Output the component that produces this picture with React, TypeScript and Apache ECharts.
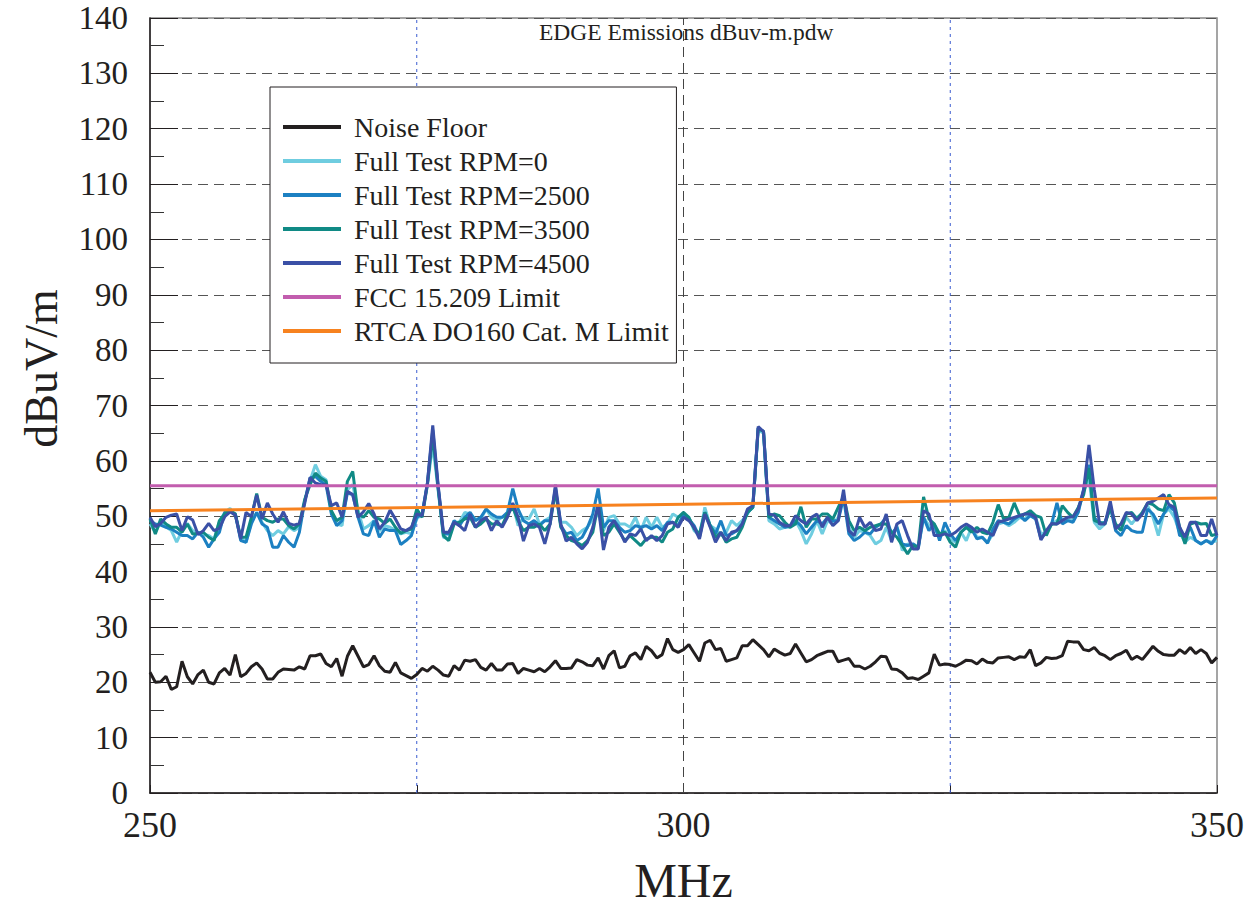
import React, { useEffect, useRef } from "react";
import * as echarts from "echarts";

// Sweep: 250 MHz to 350 MHz in 0.5 MHz steps (201 points)
const FREQ_START = 250;
const FREQ_STEP = 0.5;

const noiseFloor = [
  21.8, 20, 20.1, 21.1, 18.7, 19.2, 23.8, 21, 19.7, 21.4,
  22.2, 20, 19.7, 21.7, 22.5, 21.3, 25, 21, 21.6, 22.8,
  23.5, 22.4, 20.6, 20.6, 21.8, 22.4, 22.3, 22.2, 22.8, 22.4,
  24.8, 24.8, 25.1, 23.4, 22.8, 24.3, 21.1, 24.7, 26.6, 24.7,
  22.8, 23.2, 24.8, 23, 22, 21.8, 23.6, 21.7, 21.2, 20.7,
  21.4, 22.5, 22, 22.9, 22.2, 21.3, 21.1, 23, 22.2, 24,
  23.8, 24.1, 22.7, 22.2, 23.4, 22.2, 22.2, 23.3, 23.4, 21.6,
  22.5, 22.2, 21.9, 22.5, 21.9, 22.8, 23.9, 22.5, 22.5, 22.6,
  24.1, 23.7, 23.1, 23, 24.4, 22.4, 24.8, 25.7, 22.6, 22.9,
  24.8, 25.3, 24.1, 26.5, 25.7, 24.4, 25, 27.9, 25.9, 25.4,
  25.9,
  26.8, 25.3, 23.8, 27.1, 27.6, 25.9, 26.1, 23.8, 24.1, 24.4,
  26.6, 26.6, 27.7, 26.8, 25.9, 24.6, 26, 25.4, 24.9, 25.2,
  26.9, 25.3, 23.7, 24.1, 24.8, 25.2, 25.6, 25.6, 23.7, 24,
  24.3, 22.9, 22.9, 22.4, 22.9, 23.7, 24.7, 24.6, 22.4, 22.3,
  21.7, 20.7, 20.8, 20.5, 21.1, 21.7, 25.1, 23.1, 23.3, 23.2,
  22.9, 23.4, 24, 23.9, 23.3, 24.2, 23.6, 23.5, 24.4, 24.5,
  24.6, 24.1, 24.6, 24.5, 25.9, 23, 23.5, 24.5, 24.3, 24.4,
  24.8, 27.4, 27.3, 27.3, 25.9, 25.7, 26.3, 25.2, 24.8, 24.1,
  24.8, 25.2, 25.8, 24.1, 24.7, 24.1, 25.3, 26.5, 25.6, 25,
  24.9, 24.9, 25.9, 25.2, 26.3, 25.2, 25.9, 25.2, 23.5, 24.5,
];

const rpm0 = [
  48.6, 47.1, 48.9, 48.1, 47.4, 45.3, 47.4, 48.7, 47.4, 47.1,
  46.7, 46.5, 45.9, 48.9, 50.7, 51.4, 50.1, 46.1, 45.3, 48.9,
  50.7, 48.9, 47.4, 46.5, 47.4, 46.8, 48.1, 47.4, 48, 52.7,
  56.4, 59.3, 57.2, 56.6, 50.7, 48.6, 48.3, 54.8, 55.7, 51,
  47.7, 48.3, 49.2, 47.4, 48.3, 48, 47.5, 46.8, 47.1, 46.8,
  49.5,
  50.4, 55.7, 62.9, 54.8, 46.2, 45.9, 48.9, 48.9, 50.7, 50.4,
  49.5, 49.5, 51.3, 49.8, 49.2, 49.8, 50.4, 52.1, 48.3, 49.8,
  49.5, 51.3, 48.6, 49.2, 49.8, 54.2, 48.9, 48.9, 48, 46.5,
  47.4, 48, 49.5, 50.4, 47.4, 49.8, 50.1, 48.6, 48.6, 48,
  49.8, 47.4, 49.8, 48, 49.8, 48, 48.6, 50.4, 49.8, 50.4,
  49.8, 47.4, 46.5, 51.6, 48.3, 47.7, 46.5, 47.1, 49.2, 48.3,
  49.2, 50.4, 52.1, 65.6, 65, 49.2, 48.6, 47.7, 48, 48,
  49.2, 47.4, 45, 46.8, 49.2, 46.8, 49.2, 48.6, 49.8, 53.9,
  48, 46.2, 47.4, 47.1, 46.5, 45, 45.6, 48, 45.6, 48.3,
  43.8, 45, 44.4, 44.1, 49.8, 48.3, 48, 46.2, 47.4, 45.9,
  45.3, 47.1, 45.6, 48, 46.2, 46.2, 45.3, 46.8, 48.6, 48.9,
  48.3, 48.9, 49.8, 49.5, 50.7, 49.8, 46.8, 47.1, 48.6, 49.2,
  49.5, 49.5, 49.2, 51, 54.5, 56.9, 48.9, 47.7, 48.6, 52.1,
  48, 47.7, 49.8, 48.6, 49.8, 50.4, 51.9, 49.8, 46.5, 50.4,
  51.3, 49.8, 47.1, 45.3, 46.2, 45.6, 45, 45.6, 45.3, 45.6,
];

const rpm2500 = [
  49.2, 48.6, 48.4, 48, 47.7, 47.1, 46.5, 46.5, 45.9, 47.1,
  46.2, 44.4, 45.9, 47.1, 50.7, 51, 50.4, 45.6, 45.3, 48.6,
  50.7, 48.6, 48, 44.4, 44.4, 46.5, 45.3, 44.4, 47.1, 52.7,
  56.9, 57.2, 56.3, 55.7, 50.4, 48.3, 49.2, 54.2, 53.9, 49.8,
  46.8, 46.5, 49.2, 46.2, 47.7, 47.4, 47.4, 44.9, 45.6, 46.5,
  49.8,
  50.4, 56, 65.6, 55.4, 46.8, 46.8, 49.2, 48.3, 49.8, 50.7,
  49.2, 49.8, 51.3, 50.4, 49.8, 49.8, 50.7, 55, 51.3, 49.2,
  48.6, 49.2, 48.3, 49.2, 49.2, 55.1, 48.3, 46.8, 47.1, 45.6,
  46.2, 48, 50.4, 55, 48, 49.2, 49.2, 48, 47.1, 47.4,
  48.3, 48, 48.3, 47.7, 48.3, 47.4, 48.9, 48.9, 48.3, 50.4,
  49.5, 48.3, 46.2, 50.7, 48.3, 46.8, 49.2, 46.5, 46.8, 47.4,
  48.6, 50.7, 51.6, 65.9, 65.3, 49.8, 49.2, 48.6, 48, 48.3,
  49.2, 48.3, 46.8, 48, 49.2, 48.6, 49.8, 49.2, 49.2, 53.3,
  46.8, 45.6, 46.2, 47.1, 46.8, 48, 48.6, 49.8, 46.8, 48,
  45, 44.7, 45, 44.4, 49.8, 47.4, 48.6, 45.6, 48.9, 46.8,
  45.6, 47.1, 48, 47.7, 45.9, 46.2, 45.1, 47.7, 49.2, 48.9,
  48.6, 49.5, 50.1, 49.2, 50.1, 49.5, 45.9, 47.1, 48.6, 52.4,
  48.6, 49.2, 48.9, 50.7, 54.8, 59.3, 49.8, 48.6, 48.9, 51.6,
  47.4, 46.5, 48.3, 47.4, 47.1, 47.1, 51.3, 50.4, 48.6, 50.4,
  51.9, 51, 46.5, 46.5, 48, 45.6, 45, 45.6, 45, 46.5,
];

const rpm3500 = [
  49.5, 46.8, 49.5, 48.6, 48, 48, 47.1, 48.6, 46.8, 46.9,
  47.1, 46.2, 45.6, 49.2, 50.4, 51, 50.4, 46.2, 46.2, 49.8,
  54.1, 49.8, 49.2, 48.9, 49.5, 49.5, 48.3, 47.7, 48.6, 53,
  55.7, 57.8, 56.9, 56.3, 51, 49.2, 49.8, 56.3, 58.1, 50.4,
  49.8, 51, 49.8, 49.5, 48.7, 49.5, 48, 46.9, 47.4, 47.7,
  51.3,
  49.8, 55.7, 64.7, 55.1, 46.5, 45.6, 48.6, 48.9, 49.5, 49.8,
  48, 48.6, 49.5, 48.6, 48.6, 48.3, 50.4, 51.6, 49.2, 47.4,
  48, 48, 48.6, 47.4, 48.6, 54.8, 48, 46.5, 45.6, 45.3,
  44.7, 45.6, 47.1, 52.1, 46.5, 47.1, 48.6, 47.1, 45.6, 46.5,
  45.6, 44.7, 45.9, 46.2, 46.2, 45.3, 47.1, 47.7, 49.8, 50.7,
  49.8, 47.7, 46.8, 50.7, 48.3, 46.2, 47.1, 45.3, 45.9, 46.2,
  48, 50.7, 51.6, 65.9, 65.3, 49.8, 50.4, 50.1, 48.9, 48,
  48.6, 51.7, 48, 49.5, 49.5, 50.4, 50.4, 49.5, 51.6, 53.6,
  49.2, 47.4, 48, 47.4, 48, 48.3, 48.6, 48.6, 47.1, 46.2,
  44.7, 43.2, 44.7, 44.4, 53.5, 49.5, 48.6, 46.8, 47.1, 45.3,
  44.4, 47.1, 48, 47.1, 48, 47.1, 46.8, 48.9, 52.1, 49.5,
  49.8, 52.4, 50.1, 50.4, 51, 50.1, 49.8, 46.5, 48.6, 48.6,
  51.9, 50.7, 49.8, 51.6, 53.9, 58.7, 49.2, 48.9, 48.6, 51.6,
  48.6, 47.4, 50.4, 50.7, 49.5, 50.7, 52.4, 52.1, 51.3, 51,
  53.9, 52.4, 48, 45, 48.6, 48.9, 48.6, 48.7, 46.5, 46.8,
];

const rpm4500 = [
  49.8, 48.1, 48.7, 49.8, 50.2, 50.4, 47.4, 49.9, 49.3, 46.7,
  47.4, 48.7, 47.4, 47.8, 49.9, 50.8, 50.2, 45.9, 50.7, 49.9,
  53.8, 49.5, 52.4, 50.4, 48.9, 50.8, 48.7, 48.4, 48.7, 52.3,
  57, 56, 55.7, 55.7, 51.9, 52.4, 49.8, 54.5, 53.9, 49.8,
  50.8, 52.3, 50.4, 47.7, 48.9, 51.1, 49.5, 47.7, 47.4, 48,
  50.4,
  50.1, 56, 66.4, 55.7, 47.1, 47.1, 48.9, 48.3, 47.4, 50.4,
  48, 49.2, 49.8, 47.4, 49.2, 48, 49.8, 52.4, 49.8, 45.5,
  48.3, 48.6, 48, 45, 48.6, 55.7, 48.6, 45.5, 46.2, 45,
  44.1, 45.3, 48, 52.1, 43.9, 48, 49.2, 47.4, 45.3, 46.8,
  46.5, 47.7, 45.6, 46.5, 45.6, 46.5, 48.6, 48.9, 48, 49.8,
  49.2, 48, 45.9, 50.4, 48, 45.3, 47.1, 45.6, 47.1, 47.4,
  48.6, 51.3, 51.9, 66.2, 65.3, 50.4, 50.2, 48.9, 48.3, 48.3,
  50.1, 49.2, 48.6, 49.8, 50.4, 48, 49.8, 48.3, 49.2, 54.8,
  47.4, 46.5, 49.8, 48, 48.9, 47.4, 47.7, 50.4, 45.3, 48.6,
  49.2, 46.5, 44.1, 44.1, 51, 50.4, 46.5, 46.5, 46.8, 46.5,
  47.1, 48, 48.6, 48, 47.1, 47.7, 47.1, 46.5, 48.9, 49.2,
  49.5, 49.8, 50.1, 50.4, 50.4, 49.8, 45.7, 47.4, 48.7, 48.6,
  49.2, 49.8, 49.9, 51.3, 54.8, 62.9, 54.8, 48.6, 48.6, 52.7,
  47.7, 48.6, 50.7, 50.4, 49.2, 50.4, 52.4, 52.7, 53.3, 53.9,
  52.1, 51.6, 48, 46.2, 48.9, 48.9, 46.5, 46.5, 49.5, 46.5,
];

// Limit lines: [frequency, level]
const fccLimit = [
  [250, 55.5],
  [350, 55.5],
];
const rtcaLimit = [
  [250, 51.0],
  [350, 53.3],
];

const seriesNames = [
  "Noise Floor",
  "Full Test RPM=0",
  "Full Test RPM=2500",
  "Full Test RPM=3500",
  "Full Test RPM=4500",
  "FCC 15.209 Limit",
  "RTCA DO160 Cat. M Limit",
];
const seriesColors = [
  "#231f20",
  "#6fcde0",
  "#1c80c2",
  "#108a85",
  "#3a50a6",
  "#c25dae",
  "#f7821f",
];

const xTicks = [250, 300, 350];
const dottedLines = [275, 325];
const dashedLines = [300];
const titleText = "EDGE Emissions dBuv-m.pdw";

const FONT = "'Liberation Serif', 'Times New Roman', serif";
const Y_MIN = 0;
const Y_MAX = 140;

function pairs(values: number[]) {
  return values.map((v, i) => [FREQ_START + i * FREQ_STEP, v]);
}

export default function App() {
  const ref = useRef<HTMLDivElement>(null);

  useEffect(() => {
    if (!ref.current) return;
    document.documentElement.style.overflow = "hidden";
    document.body.style.margin = "0";
    document.body.style.overflow = "hidden";
    const chart = echarts.init(ref.current, undefined, { renderer: "svg", width: 1256, height: 909 });
    const series: any[] = [];
    // vertical reference lines (drawn first, behind data)
    dottedLines.forEach((x, i) => {
      series.push({
        id: "dot" + i,
        type: "line",
        data: [
          [x, Y_MIN],
          [x, Y_MAX],
        ],
        symbol: "none",
        silent: true,
        z: 1,
        color: "#3a5bd0",
        lineStyle: { color: "#3a5bd0", type: [3, 4], width: 1 },
      });
    });
    dashedLines.forEach((x, i) => {
      series.push({
        id: "dash" + i,
        type: "line",
        data: [
          [x, Y_MIN],
          [x, Y_MAX],
        ],
        symbol: "none",
        silent: true,
        z: 1,
        color: "#444",
        lineStyle: { color: "#444", type: [10, 6], width: 1 },
      });
    });
    const lineData = [noiseFloor, rpm0, rpm2500, rpm3500, rpm4500];
    lineData.forEach((vals, i) => {
      series.push({
        name: seriesNames[i],
        type: "line",
        data: pairs(vals),
        symbol: "none",
        showSymbol: false,
        color: seriesColors[i],
        lineStyle: { color: seriesColors[i], width: 3 },
        z: 3 + i,
      });
    });
    series.push({
      name: seriesNames[5],
      type: "line",
      data: fccLimit,
      symbol: "none",
      color: seriesColors[5],
      lineStyle: { color: seriesColors[5], width: 3 },
      z: 10,
    });
    series.push({
      name: seriesNames[6],
      type: "line",
      data: rtcaLimit,
      symbol: "none",
      color: seriesColors[6],
      lineStyle: { color: seriesColors[6], width: 3 },
      z: 11,
    });

    chart.setOption({
      animation: false,
      backgroundColor: "#ffffff",
      title: {
        text: titleText,
        left: 534,
        top: 15,
        textStyle: { fontFamily: FONT, fontSize: 23.5, fontWeight: "normal", color: "#231f20" },
      },
      grid: {
        left: 150,
        top: 18,
        width: 1067,
        height: 780,
        show: true,
        borderColor: "#888",
        borderWidth: 1.5,
        backgroundColor: "transparent",
      },
      legend: {
        orient: "vertical",
        left: 270,
        top: 87,
        selectedMode: false,
        backgroundColor: "#ffffff",
        borderColor: "#231f20",
        borderWidth: 1,
        padding: [26, 6, 18, 13],
        itemWidth: 58,
        itemHeight: 4,
        itemGap: 6,
        icon: "rect",
        formatter: "{n|{name}}",
        textStyle: {
          fontFamily: FONT,
          fontSize: 28,
          color: "#231f20",
          lineHeight: 28,
          rich: {
            n: { fontFamily: FONT, fontSize: 28, color: "#231f20", lineHeight: 28, padding: [0, 0, 0, 8] },
          },
        },
        data: seriesNames,
      },
      xAxis: {
        type: "value",
        min: 250,
        max: 350,
        interval: 25,
        name: "MHz",
        nameLocation: "middle",
        nameGap: 63,
        nameTextStyle: { fontFamily: FONT, fontSize: 48, color: "#231f20" },
        axisLine: { show: true, lineStyle: { color: "#231f20", width: 1.5 } },
        axisTick: { show: true, inside: true, length: 8, lineStyle: { color: "#231f20" } },
        axisLabel: {
          fontFamily: FONT,
          fontSize: 36,
          color: "#231f20",
          margin: 14,
          formatter: (v: number) => (xTicks.includes(v) ? String(v) : ""),
        },
        splitLine: { show: false },
      },
      yAxis: {
        type: "value",
        min: Y_MIN,
        max: Y_MAX,
        interval: 10,
        name: "dBuV/m",
        nameLocation: "middle",
        nameGap: 86,
        nameTextStyle: { fontFamily: FONT, fontSize: 46, color: "#231f20", padding: [0, 0, 0, 74] },
        axisLine: { show: true, lineStyle: { color: "#231f20", width: 1.5 } },
        axisTick: { show: true, inside: true, length: 28, lineStyle: { color: "#231f20" } },
        minorTick: { show: true, splitNumber: 2, length: 14, lineStyle: { color: "#333" } },
        axisLabel: { fontFamily: FONT, fontSize: 33, color: "#231f20", margin: 22 },
        splitLine: { show: true, lineStyle: { color: "#555", type: [10, 6], width: 1 } },
      },
      series,
    });
    return () => chart.dispose();
  }, []);

  return (
    <div
      ref={ref}
      style={{
        position: "fixed",
        left: 0,
        top: 0,
        width: 1256,
        height: 909,
        overflow: "hidden",
        background: "#fff",
      }}
    />
  );
}
